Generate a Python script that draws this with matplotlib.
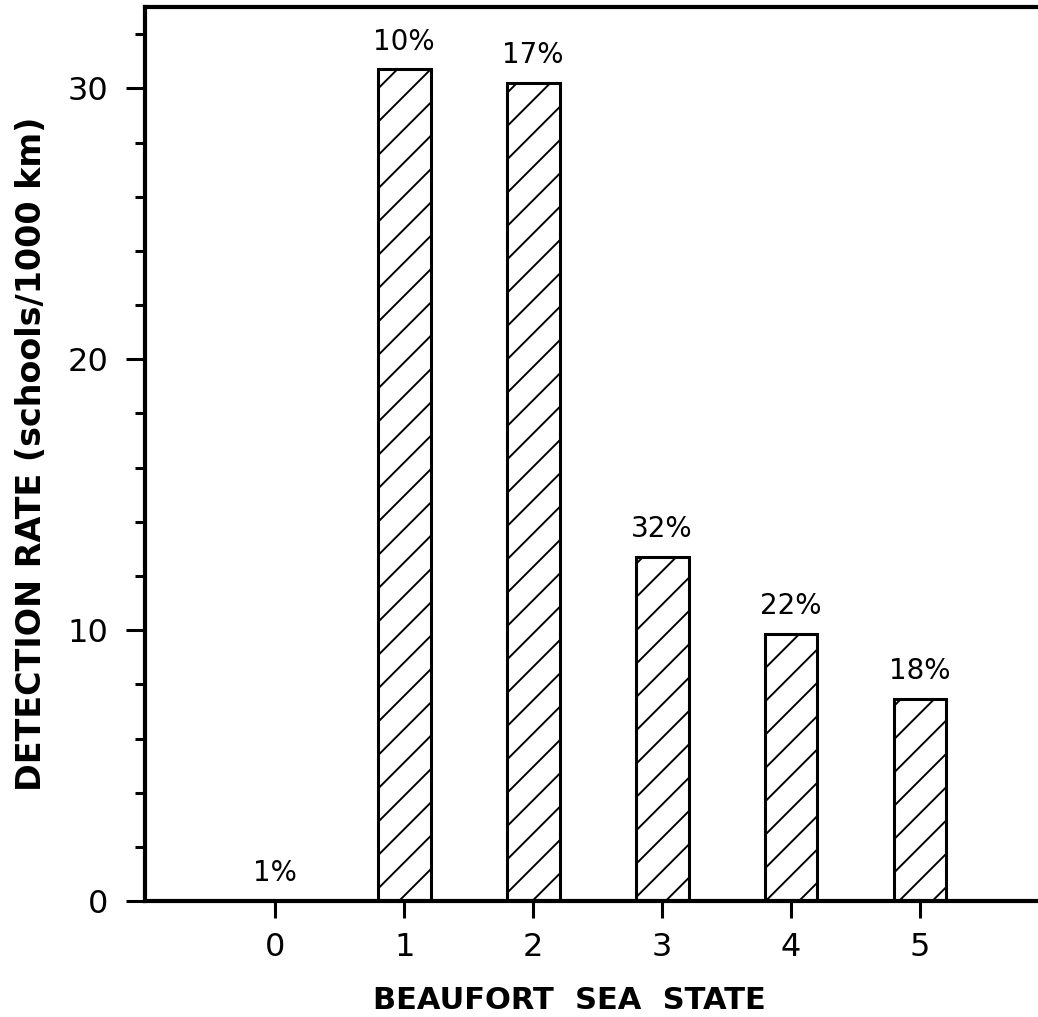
"""Detection rate of schools by Beaufort sea state, hatched bar chart."""

from matplotlib import pyplot
from matplotlib.ticker import MultipleLocator

# Data.
sea_state = [0, 1, 2, 3, 4, 5]
rate = [0.0, 30.7, 30.2, 12.7, 9.85, 7.45]  # schools per 1000 km
effort = ['1%', '10%', '17%', '32%', '22%', '18%']  # share of effort

pyplot.rc('font', family='DejaVu Sans')
pyplot.rc('hatch', linewidth=0.7, color='black')

fig = pyplot.figure(figsize=(5.19, 5.085), dpi=200)
ax = fig.add_axes([0.1397, 0.114, 0.8603, 0.879])

ax.bar(sea_state, rate, width=0.41, color='white', edgecolor='black',
       linewidth=1.1, hatch='//', zorder=2)
for x, y, txt in zip(sea_state, rate, effort):
    ax.annotate(txt, (x, y), xytext=(0, 5), textcoords='offset points',
                ha='center', va='bottom', fontsize=10)

ax.set_xlim(-1.01, 5.915)
ax.set_ylim(0, 33)
ax.set_xticks(sea_state)
ax.yaxis.set_major_locator(MultipleLocator(10))
ax.yaxis.set_minor_locator(MultipleLocator(2))

for side in ['left', 'bottom', 'top']:
    ax.spines[side].set_linewidth(1.5)
ax.spines['right'].set_visible(False)

ax.tick_params(axis='y', which='major', direction='out', length=6.8,
               width=1.1, pad=6.5, labelsize=11.5)
ax.tick_params(axis='y', which='minor', direction='out', length=3.6,
               width=1.1)
ax.tick_params(axis='x', direction='out', length=6, width=1.1, pad=5,
               labelsize=11.5)

ax.set_xlabel('BEAUFORT  SEA  STATE', fontsize=11, fontweight='bold')
ax.xaxis.set_label_coords(0.475, -0.095)
ax.set_ylabel('DETECTION RATE (schools/1000 km)', fontsize=12,
              fontweight='bold', labelpad=7)

fig.savefig('out.png', dpi=200)
